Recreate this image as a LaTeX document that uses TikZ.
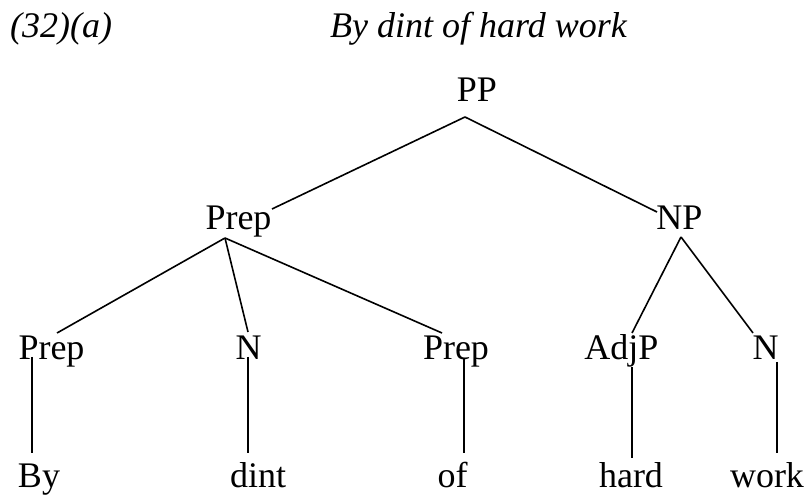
\documentclass[tikz,border=0pt]{standalone}
\usepackage{fontspec}
\setmainfont{Liberation Serif}
\begin{document}
\begin{tikzpicture}[x=1pt,y=1pt,
  lbl/.style={inner sep=0pt,anchor=base,font=\fontsize{36}{40}\selectfont},
  ttl/.style={inner sep=0pt,anchor=base west,font=\fontsize{36}{40}\selectfont\itshape},
  edge/.style={line width=1.6pt,line cap=butt}]
\useasboundingbox (0,0) rectangle (809,495);
% title
\node[ttl] (num) at (10,457) {(32)(a)};
\node[ttl] (title) at (330,457) {By dint of hard work};
% tree labels
\node[lbl] (PP) at (477,393) {PP};
\node[lbl] (Prep) at (238.5,265) {Prep};
\node[lbl] (NP) at (679.5,265) {NP};
\node[lbl] (PrepA) at (51.5,135) {Prep};
\node[lbl] (NA) at (248.5,135) {N};
\node[lbl] (PrepB) at (456,135) {Prep};
\node[lbl] (AdjP) at (621.5,135) {AdjP};
\node[lbl] (NB) at (765.5,135) {N};
\node[lbl] (By) at (39,7) {By};
\node[lbl] (dint) at (258,7) {dint};
\node[lbl] (of) at (452.5,7) {of};
\node[lbl] (hard) at (631,7) {hard};
\node[lbl] (work) at (767,7) {work};
% connector points
\coordinate (PP-d) at (465,378);
\coordinate (Prep-u) at (272,286);
\coordinate (NP-u) at (657,283);
\coordinate (Prep-d) at (225,257);
\coordinate (NP-d) at (681,258);
\coordinate (PrepA-u) at (57,162);
\coordinate (NA-u) at (248,163);
\coordinate (PrepB-u) at (442,162);
\coordinate (AdjP-u) at (632,162);
\coordinate (NB-u) at (753,162);
\coordinate (PrepA-d) at (32,138);
\coordinate (NA-d) at (248,138);
\coordinate (PrepB-d) at (464,137);
\coordinate (AdjP-d) at (632,128);
\coordinate (NB-d) at (777,133);
\coordinate (By-u) at (32,42);
\coordinate (dint-u) at (248,42);
\coordinate (of-u) at (464,42);
\coordinate (hard-u) at (632,37);
\coordinate (work-u) at (777,42);
% connectors
\draw[edge] (PP-d) -- (Prep-u);
\draw[edge] (PP-d) -- (NP-u);
\draw[edge] (Prep-d) -- (PrepA-u);
\draw[edge] (Prep-d) -- (NA-u);
\draw[edge] (Prep-d) -- (PrepB-u);
\draw[edge] (NP-d) -- (AdjP-u);
\draw[edge] (NP-d) -- (NB-u);
\draw[edge] (PrepA-d) -- (By-u);
\draw[edge] (NA-d) -- (dint-u);
\draw[edge] (PrepB-d) -- (of-u);
\draw[edge] (AdjP-d) -- (hard-u);
\draw[edge] (NB-d) -- (work-u);
\end{tikzpicture}
\end{document}
